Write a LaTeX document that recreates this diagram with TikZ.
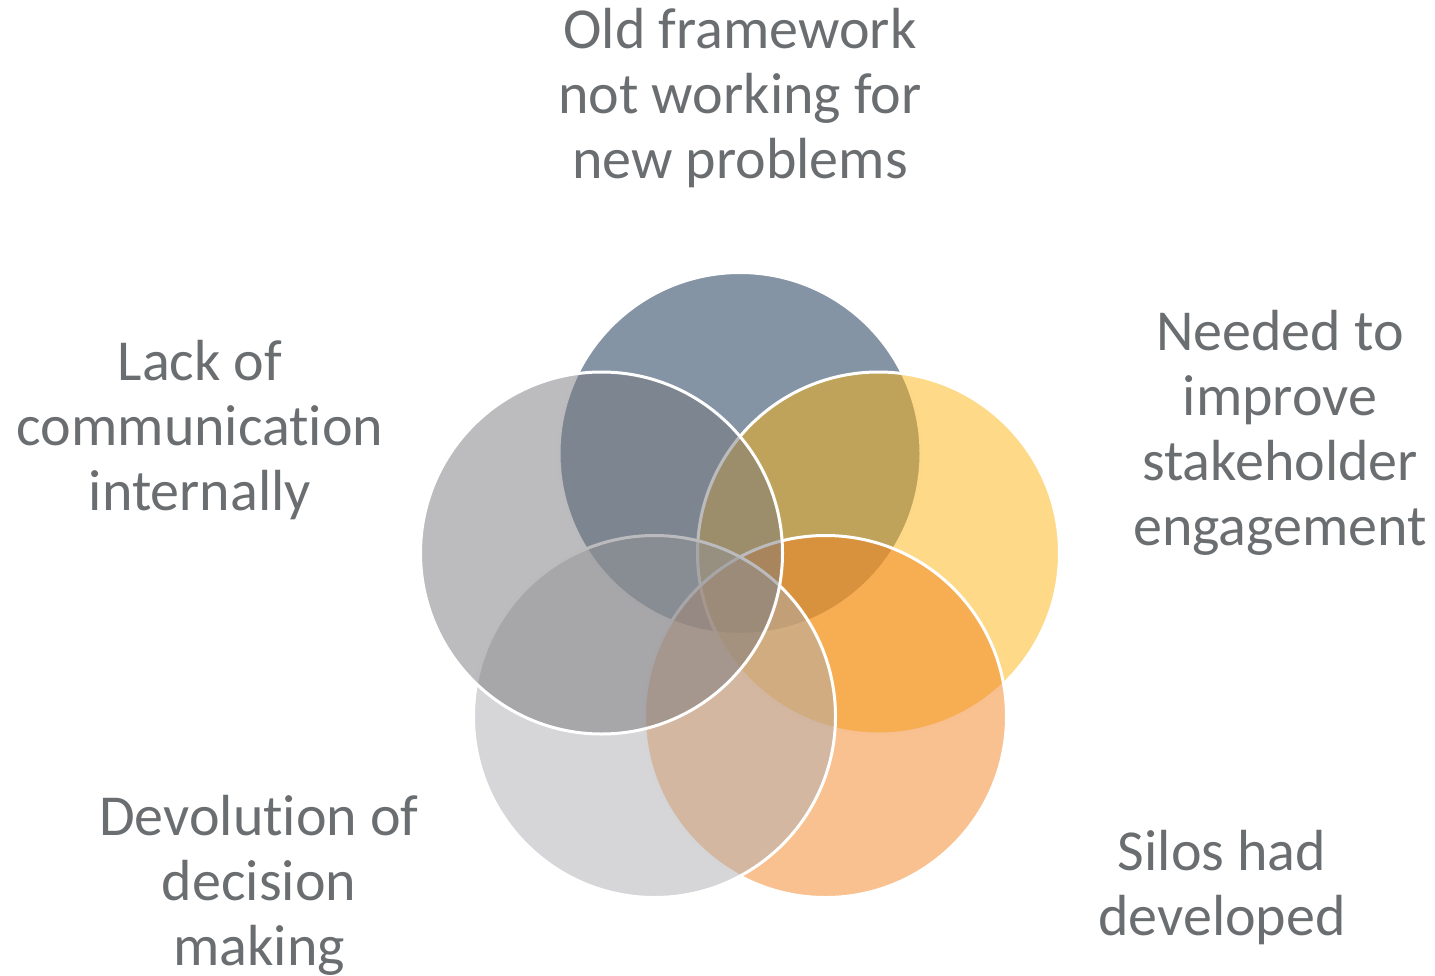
\documentclass[tikz,border=0pt]{standalone}
\usepackage{fontspec}
\setmainfont{Carlito}[Ligatures={NoCommon}]
\definecolor{cTop}{RGB}{9,41,76}
\definecolor{cRight}{RGB}{251,179,17}
\definecolor{cLowRight}{RGB}{243,131,33}
\definecolor{cLowLeft}{RGB}{173,173,177}
\definecolor{cLeft}{RGB}{121,121,125}
\definecolor{labelgray}{RGB}{107,110,113}
\setlength{\tabcolsep}{0pt}
\begin{document}
\begin{tikzpicture}[x=1pt,y=-1pt,
  petal/.style={circle, minimum size=362pt, inner sep=0pt, draw=white,
    line width=3pt, fill opacity=0.5},
  caption/.style={anchor=base, inner sep=0pt, text=labelgray,
    font=\fontsize{58}{65}\selectfont}]
\useasboundingbox (0,0) rectangle (1435,975);

% five overlapping circles, pentagon layout, drawn clockwise from the top
\node[petal, fill=cTop]      (pTop)      at (740,453.5) {};
\node[petal, fill=cRight]    (pRight)    at (878.5,553) {};
\node[petal, fill=cLowRight] (pLowRight) at (825.5,716.5) {};
\node[petal, fill=cLowLeft]  (pLowLeft)  at (654.5,716.5) {};
\node[petal, fill=cLeft]     (pLeft)     at (601.5,553) {};

% captions
\node[caption] (tTop) at (740,48)
  {\begin{tabular}[t]{c}Old framework\\not working for\\new problems\end{tabular}};
\node[caption] (tRight) at (1280,350)
  {\begin{tabular}[t]{c}Needed to\\improve\\stakeholder\\engagement\end{tabular}};
\node[caption] (tLowRight) at (1222,870)
  {\begin{tabular}[t]{c}Silos had\\developed\end{tabular}};
\node[caption] (tLowLeft) at (259,835)
  {\begin{tabular}[t]{c}Devolution of\\decision\\making\end{tabular}};
\node[caption] (tLeft) at (200,380)
  {\begin{tabular}[t]{c}Lack of\\communication\\internally\end{tabular}};
\end{tikzpicture}
\end{document}
